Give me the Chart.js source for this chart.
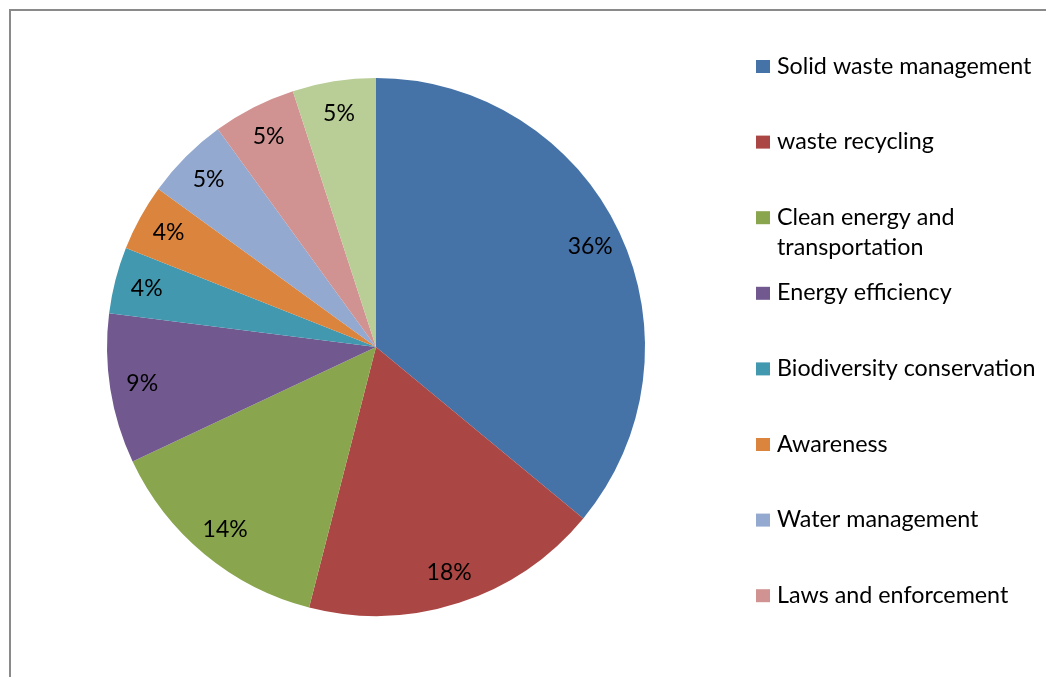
<!DOCTYPE html>
<html>
<head>
<meta charset="utf-8">
<script src="https://cdn.jsdelivr.net/npm/chart.js@4.4.1/dist/chart.umd.min.js"></script>
<style>
  html, body { margin: 0; padding: 0; background: #ffffff; }
  #wrap { position: relative; width: 1046px; height: 677px; overflow: hidden; }
  canvas { display: block; }
</style>
</head>
<body>
<div id="wrap"><canvas id="pie" width="1046" height="677"></canvas></div>
<script>
// Share of projects by environmental theme (percent)
const categories = [
  'Solid waste management',
  'waste recycling',
  ['Clean energy and', 'transportation'],
  'Energy efficiency',
  'Biodiversity conservation',
  'Awareness',
  'Water management',
  'Laws and enforcement',
  'Others'
];
const shares = [36, 18, 14, 9, 4, 4, 5, 5, 5];
const sliceColors = [
  '#4572A7', '#AA4643', '#89A54E', '#71588F', '#4198AF',
  '#DB843D', '#93A9CF', '#D19392', '#B9CD96'
];

const FONT = 'Lato, "Liberation Sans", sans-serif';

// Grey frame around the chart area (right and bottom edges run off the page)
const framePlugin = {
  id: 'frame',
  beforeDraw(chart) {
    const ctx = chart.ctx;
    ctx.save();
    ctx.strokeStyle = '#8a8a8a';
    ctx.lineWidth = 2;
    ctx.strokeRect(10, 10, chart.width + 40, chart.height + 40);
    ctx.restore();
  }
};

// Percentage labels placed along each slice's bisector
const sliceLabelPlugin = {
  id: 'sliceLabels',
  afterDatasetsDraw(chart) {
    const ctx = chart.ctx;
    const meta = chart.getDatasetMeta(0);
    const values = chart.data.datasets[0].data;
    ctx.save();
    ctx.font = '23px ' + FONT;
    ctx.fillStyle = '#000000';
    ctx.textAlign = 'center';
    ctx.textBaseline = 'middle';
    meta.data.forEach((arc, i) => {
      const p = arc.getProps(['x', 'y', 'startAngle', 'endAngle', 'outerRadius'], true);
      const mid = (p.startAngle + p.endAngle) / 2;
      const r = p.outerRadius * 0.88;
      ctx.fillText(values[i] + '%', p.x + Math.cos(mid) * r, p.y + Math.sin(mid) * r);
    });
    ctx.restore();
  }
};

// Legend column on the right; entries that do not fit are left out
const sideLegendPlugin = {
  id: 'sideLegend',
  afterDraw(chart) {
    const ctx = chart.ctx;
    const labels = chart.data.labels;
    const colors = chart.data.datasets[0].backgroundColor;
    const x0 = 756, textX = 777, firstBaseline = 73.5, pitch = 75.6, lineH = 30;
    ctx.save();
    ctx.font = '23.3px ' + FONT;
    ctx.fillStyle = '#000000';
    ctx.textAlign = 'left';
    ctx.textBaseline = 'alphabetic';
    labels.forEach((lab, i) => {
      const base = firstBaseline + i * pitch;
      if (base + 4 > chart.height) return;
      ctx.fillStyle = colors[i];
      ctx.fillRect(x0, base - 13.5, 14, 13);
      ctx.fillStyle = '#000000';
      const lines = Array.isArray(lab) ? lab : [lab];
      lines.forEach((t, j) => ctx.fillText(t, textX, base + j * lineH));
    });
    ctx.restore();
  }
};

new Chart(document.getElementById('pie'), {
  type: 'pie',
  data: {
    labels: categories,
    datasets: [{
      data: shares,
      backgroundColor: sliceColors,
      borderWidth: 0
    }]
  },
  options: {
    responsive: false,
    animation: false,
    rotation: 0,
    layout: { padding: { top: 78, bottom: 61, left: 107, right: 401 } },
    plugins: {
      legend: { display: false },
      tooltip: { enabled: false }
    }
  },
  plugins: [framePlugin, sliceLabelPlugin, sideLegendPlugin]
});
</script>
</body>
</html>
